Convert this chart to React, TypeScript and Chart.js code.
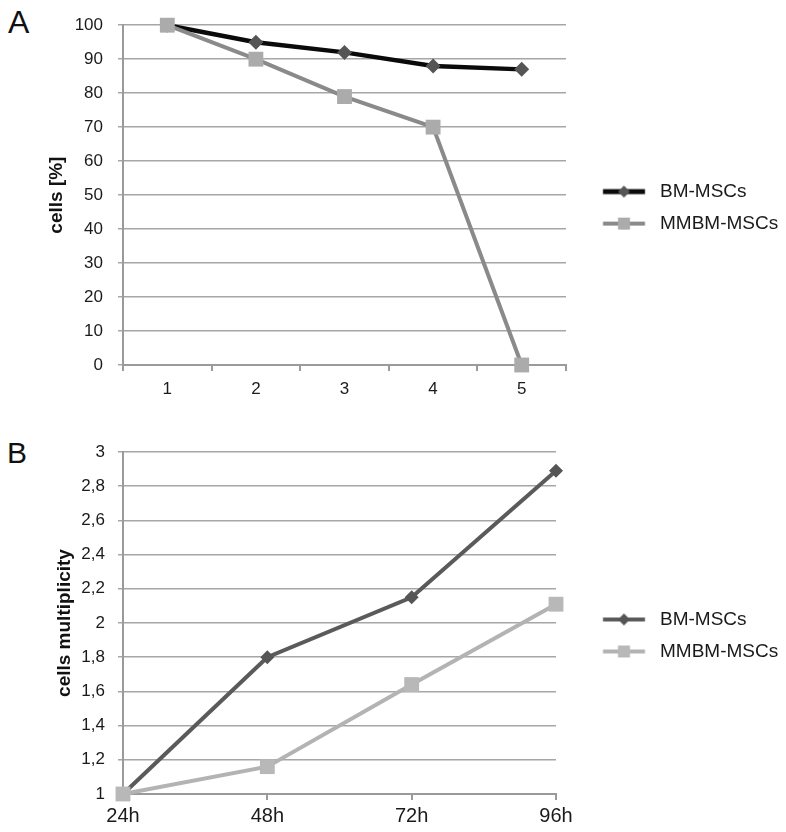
import React, { useEffect, useRef } from "react";
import { Chart, registerables } from "chart.js";

Chart.register(...registerables);

const FONT = "'Liberation Sans', Arial, Helvetica, sans-serif";

// ---- Panel A data ----
const passagesA = ["1", "2", "3", "4", "5"];
const bmA = [100, 95, 92, 88, 87];
const mmbmA = [100, 90, 79, 70, 0];

// ---- Panel B data ----
const timesB = ["24h", "48h", "72h", "96h"];
const bmB = [1, 1.8, 2.15, 2.89];
const mmbmB = [1, 1.16, 1.64, 2.11];

const seriesNames = ["BM-MSCs", "MMBM-MSCs"];

type SeriesCfg = {
  name: string;
  values: number[];
  line: string;
  lineWidth: number;
  marker: "rectRot" | "rect";
  markerColor: string;
  markerRadius: number;
  legendLineWidth: number;
  legendMarker: number;
  order: number;
};

type PanelCfg = {
  top: number;
  height: number;
  labels: string[];
  series: SeriesCfg[];
  yMin: number;
  yMax: number;
  yStep: number;
  yFmt: (v: number) => string;
  yTitle: string;
  yTitlePad: number;
  yTickFont: number;
  yTickPad: number;
  xOffset: boolean;
  xTickFont: number;
  xTickPad: number;
  xHeight: number;
  padTop: number;
  padRight: number;
  legendMax: number;
  legendBox: number;
  legendCenter: number;
};

const GRID = "#a6a6a6";
const AXIS = "#9a9a9a";
const TEXT = "#1a1a1a";

function makeIcon(s: SeriesCfg, centerX: number): HTMLCanvasElement {
  const L0 = 603;
  const L1 = 645;
  const half = Math.max(centerX - L0, L1 - centerX) + 6;
  const W = Math.ceil(half * 2);
  const H = 24;
  const c = document.createElement("canvas");
  c.width = W;
  c.height = H;
  const g = c.getContext("2d")!;
  const left = centerX - W / 2;
  const x0 = L0 - left;
  const x1 = L1 - left;
  const y = H / 2;
  g.strokeStyle = s.line;
  g.lineWidth = s.legendLineWidth;
  g.beginPath();
  g.moveTo(x0, y);
  g.lineTo(x1, y);
  g.stroke();
  const mx = (x0 + x1) / 2;
  const r = s.legendMarker / 2;
  g.fillStyle = s.markerColor;
  g.beginPath();
  if (s.marker === "rectRot") {
    g.moveTo(mx, y - r);
    g.lineTo(mx + r, y);
    g.lineTo(mx, y + r);
    g.lineTo(mx - r, y);
    g.closePath();
  } else {
    g.rect(mx - r, y - r, 2 * r, 2 * r);
  }
  g.fill();
  return c;
}

function Panel({ cfg }: { cfg: PanelCfg }) {
  const ref = useRef<HTMLCanvasElement>(null);
  useEffect(() => {
    const icons = cfg.series.map((s) => makeIcon(s, cfg.legendCenter));
    const chart = new Chart(ref.current!, {
      type: "line",
      data: {
        labels: cfg.labels,
        datasets: cfg.series.map((s) => ({
          label: s.name,
          data: s.values,
          borderColor: s.line,
          borderWidth: s.lineWidth,
          backgroundColor: s.markerColor,
          pointStyle: s.marker,
          pointRadius: s.markerRadius,
          pointHoverRadius: s.markerRadius,
          pointBackgroundColor: s.markerColor,
          pointBorderColor: s.markerColor,
          pointBorderWidth: 0,
          tension: 0,
          fill: false,
          clip: false as any,
          order: s.order,
        })),
      },
      options: {
        animation: false,
        responsive: false,
        maintainAspectRatio: false,
        events: [],
        layout: { padding: { top: cfg.padTop, right: cfg.padRight, bottom: 0, left: 0 } },
        plugins: {
          tooltip: { enabled: false },
          legend: {
            position: "right",
            fullSize: false,
            maxWidth: cfg.legendMax,
            align: "center",
            title: { display: true, text: " ", font: { size: 10 }, padding: { top: 6.5, bottom: 6.5 } },
            labels: {
              usePointStyle: true,
              pointStyleWidth: cfg.legendBox,
              padding: 13,
              color: TEXT,
              font: { family: FONT, size: 19 },
              generateLabels: (ch: any) =>
                ch.data.datasets.map((ds: any, i: number) => ({
                  text: ds.label,
                  datasetIndex: i,
                  pointStyle: icons[i],
                  fillStyle: ds.backgroundColor,
                  strokeStyle: ds.borderColor,
                  lineWidth: 0,
                  hidden: false,
                  fontColor: TEXT,
                })),
            },
          },
        },
        scales: {
          x: {
            type: "category",
            offset: cfg.xOffset,
            grid: {
              display: true,
              drawOnChartArea: false,
              drawTicks: true,
              tickLength: 6,
              offset: cfg.xOffset,
              color: AXIS,
              lineWidth: 2,
            },
            border: { display: true, color: AXIS, width: 2 },
            ticks: {
              color: TEXT,
              font: { family: FONT, size: cfg.xTickFont },
              padding: cfg.xTickPad,
              maxRotation: 0,
              autoSkip: false,
            },
            afterFit: (s: any) => {
              s.height = cfg.xHeight;
            },
          },
          y: {
            min: cfg.yMin,
            max: cfg.yMax,
            ticks: {
              stepSize: cfg.yStep,
              color: TEXT,
              font: { family: FONT, size: cfg.yTickFont },
              padding: cfg.yTickPad,
              callback: (v: any) => cfg.yFmt(Number(v)),
            },
            grid: { color: GRID, lineWidth: 1.5, drawTicks: true, tickLength: 5 },
            border: { display: true, color: AXIS, width: 2 },
            title: {
              display: true,
              text: cfg.yTitle,
              color: "#111",
              font: { family: FONT, size: 19, weight: "bold" },
              padding: { top: cfg.yTitlePad, bottom: 0 },
            },
            afterFit: (s: any) => {
              s.width = 123;
            },
          },
        },
      } as any,
    });
    return () => chart.destroy();
  }, []);
  return (
    <canvas
      ref={ref}
      width={786}
      height={cfg.height}
      style={{ position: "absolute", left: 0, top: cfg.top, width: 786, height: cfg.height }}
    />
  );
}

const panelA: PanelCfg = {
  top: 0,
  height: 420,
  labels: passagesA,
  series: [
    {
      name: seriesNames[0], values: bmA, line: "#0a0a0a", lineWidth: 4.5, marker: "rectRot",
      markerColor: "#555555", markerRadius: 7.5, legendLineWidth: 5, legendMarker: 12, order: 2,
    },
    {
      name: seriesNames[1], values: mmbmA, line: "#8a8a8a", lineWidth: 4, marker: "rect",
      markerColor: "#ababab", markerRadius: 10.5, legendLineWidth: 4, legendMarker: 12, order: 1,
    },
  ],
  yMin: 0,
  yMax: 100,
  yStep: 10,
  yFmt: (v) => String(Math.round(v)),
  yTitle: "cells [%]",
  yTitlePad: 45,
  yTickFont: 17,
  yTickPad: 15,
  xOffset: true,
  xTickFont: 17,
  xTickPad: 8,
  xHeight: 55,
  padTop: 22,
  padRight: 0,
  legendMax: 220,
  legendBox: 71.5,
  legendCenter: 614.75,
};

const panelB: PanelCfg = {
  top: 420,
  height: 412,
  labels: timesB,
  series: [
    {
      name: seriesNames[0], values: bmB, line: "#5a5a5a", lineWidth: 4, marker: "rectRot",
      markerColor: "#555555", markerRadius: 7, legendLineWidth: 4, legendMarker: 12, order: 2,
    },
    {
      name: seriesNames[1], values: mmbmB, line: "#b3b3b3", lineWidth: 4, marker: "rect",
      markerColor: "#b8b8b8", markerRadius: 10.5, legendLineWidth: 4, legendMarker: 12, order: 1,
    },
  ],
  yMin: 1,
  yMax: 3,
  yStep: 0.2,
  yFmt: (v) => String(Math.round(v * 10) / 10).replace(".", ","),
  yTitle: "cells multiplicity",
  yTitlePad: 53.6,
  yTickFont: 17,
  yTickPad: 13,
  xOffset: false,
  xTickFont: 20,
  xTickPad: 4,
  xHeight: 38,
  padTop: 32,
  padRight: 0,
  legendMax: 230,
  legendBox: 81.5,
  legendCenter: 609.75,
};

export default function App() {
  return (
    <div style={{ position: "absolute", left: 0, top: 0, width: 786, height: 832, background: "#fff", overflow: "hidden" }}>
      <div style={{ position: "absolute", left: 8, top: 6, fontFamily: FONT, fontSize: 32, lineHeight: 1, color: "#111" }}>A</div>
      <Panel cfg={panelA} />
      <div style={{ position: "absolute", left: 7, top: 438, fontFamily: FONT, fontSize: 30, lineHeight: 1, color: "#111" }}>B</div>
      <Panel cfg={panelB} />
    </div>
  );
}
